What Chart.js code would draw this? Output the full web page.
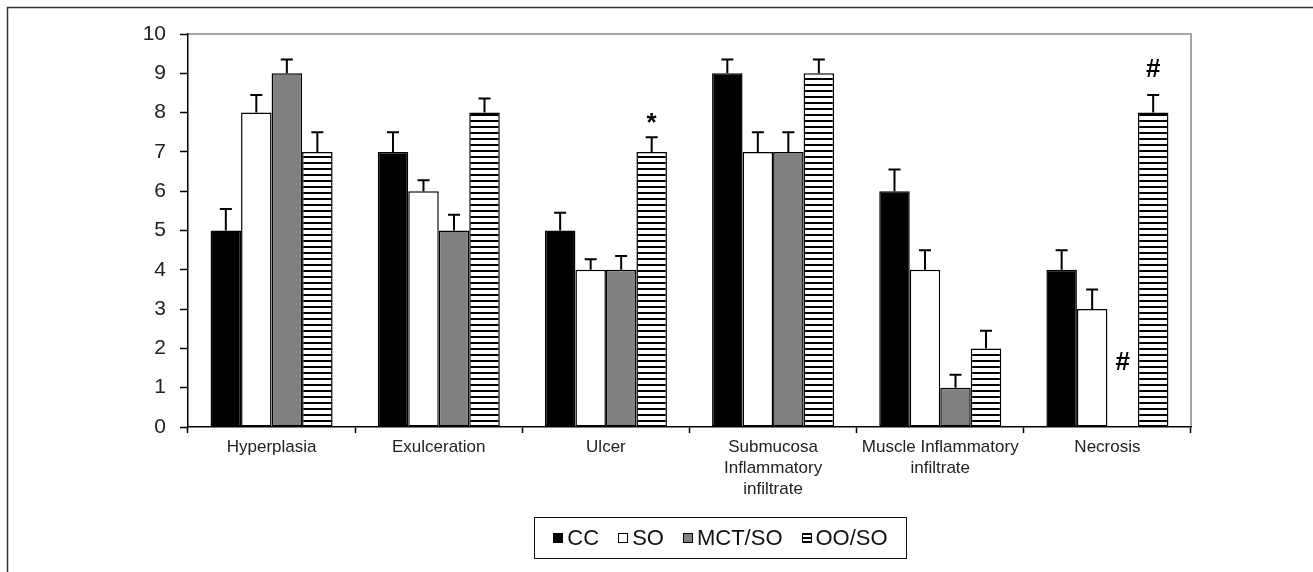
<!DOCTYPE html>
<html lang="en">
<head>
    <meta charset="UTF-8">
    <title>Histological scores</title>
    <script src="https://cdn.jsdelivr.net/npm/chart.js"></script>
    <style>
        body { margin: 0; background: #fff; }
        #wrap { position: relative; width: 1313px; height: 572px; }
        #legenda {
            position: absolute; left: 534px; top: 517px; width: 373px; height: 42px;
            box-sizing: border-box; border: 1.5px solid #111;
            display: flex; align-items: center; justify-content: center; gap: 19px;
            font-family: "Liberation Sans", Arial, sans-serif; font-size: 22px; color: #111;
        }
        .item { display: flex; align-items: center; }
        .swatch { width: 10px; height: 10px; box-sizing: border-box; border: 1px solid #000; margin-right: 4px; }
    </style>
</head>
<body>
<div id="wrap">
    <canvas id="grafico" width="1313" height="572"></canvas>
    <div id="legenda"></div>
</div>
<script>
    const categorias = [
        'Hyperplasia',
        'Exulceration',
        'Ulcer',
        ['Submucosa', 'Inflammatory', 'infiltrate'],
        ['Muscle Inflammatory', 'infiltrate'],
        'Necrosis'
    ];
    const grupos = ['CC', 'SO', 'MCT/SO', 'OO/SO'];

    const valoresCC  = [5, 7, 5, 9, 6, 4];
    const valoresSO  = [8, 6, 4, 7, 4, 3];
    const valoresMCT = [9, 5, 4, 7, 1, 0];
    const valoresOO  = [7, 8, 7, 9, 2, 8];

    const erroCC  = [0.55, 0.5, 0.45, 0.35, 0.55, 0.5];
    const erroSO  = [0.45, 0.28, 0.27, 0.5, 0.5, 0.5];
    const erroMCT = [0.35, 0.4, 0.35, 0.5, 0.33, null];
    const erroOO  = [0.5, 0.36, 0.37, 0.35, 0.45, 0.45];

    const ticksY = [0, 1, 2, 3, 4, 5, 6, 7, 8, 9, 10];

    // marcas de significancia: categoria, grupo, texto
    const marcas = [
        { cat: 2, grupo: 3, texto: '*', gap: 19 },
        { cat: 5, grupo: 3, texto: '#', gap: 25 },
        { cat: 5, grupo: 2, texto: '#', gap: 64 }
    ];

    const fonte = '"Liberation Sans", Arial, sans-serif';

    function criarHachura() {
        const c = document.createElement('canvas');
        c.width = 8; c.height = 6;
        const g = c.getContext('2d');
        g.fillStyle = '#fff';
        g.fillRect(0, 0, 8, 6);
        g.fillStyle = '#000';
        g.fillRect(0, 0, 8, 2);
        return c;
    }
    const hachura = document.getElementById('grafico').getContext('2d').createPattern(criarHachura(), 'repeat');

    const cores = ['#000000', '#ffffff', '#808080', hachura];
    const valores = [valoresCC, valoresSO, valoresMCT, valoresOO];
    const erros = [erroCC, erroSO, erroMCT, erroOO];

    const pluginExtras = {
        id: 'extras',
        beforeDraw(chart) {
            const ctx = chart.ctx;
            ctx.save();
            ctx.strokeStyle = '#333';
            ctx.lineWidth = 1.5;
            ctx.beginPath();
            ctx.moveTo(7.5, 572);
            ctx.lineTo(7.5, 7.5);
            ctx.lineTo(1313, 7.5);
            ctx.stroke();
            const a = chart.chartArea;
            ctx.strokeStyle = '#888';
            ctx.beginPath();
            ctx.moveTo(a.left, a.top);
            ctx.lineTo(a.right, a.top);
            ctx.lineTo(a.right, a.bottom);
            ctx.stroke();
            ctx.restore();
        },
        afterDatasetsDraw(chart) {
            const ctx = chart.ctx;
            const y = chart.scales.y;
            ctx.save();
            ctx.strokeStyle = '#000';
            ctx.lineWidth = 2;
            chart.data.datasets.forEach((ds, i) => {
                const meta = chart.getDatasetMeta(i);
                meta.data.forEach((bar, j) => {
                    const e = erros[i][j];
                    if (e == null) return;
                    const topo = y.getPixelForValue(ds.data[j] + e);
                    ctx.beginPath();
                    ctx.moveTo(bar.x, bar.y);
                    ctx.lineTo(bar.x, topo);
                    ctx.moveTo(bar.x - 6, topo);
                    ctx.lineTo(bar.x + 6, topo);
                    ctx.stroke();
                });
            });
            ctx.fillStyle = '#000';
            ctx.font = 'bold 26px ' + fonte;
            ctx.textAlign = 'center';
            ctx.textBaseline = 'middle';
            marcas.forEach(m => {
                const bar = chart.getDatasetMeta(m.grupo).data[m.cat];
                const v = valores[m.grupo][m.cat] + (erros[m.grupo][m.cat] || 0);
                const base = y.getPixelForValue(v);
                ctx.fillText(m.texto, bar.x, base - m.gap + (m.texto === '*' ? 5 : 0));
            });
            ctx.restore();
        }
    };

    new Chart(document.getElementById('grafico'), {
        type: 'bar',
        data: {
            labels: categorias,
            datasets: grupos.map((nome, i) => ({
                label: nome,
                data: valores[i],
                backgroundColor: cores[i],
                borderColor: '#000',
                borderWidth: 1.5,
                borderSkipped: false,
                categoryPercentage: 0.73,
                barPercentage: 1.0
            }))
        },
        options: {
            responsive: false,
            animation: false,
            devicePixelRatio: 1,
            layout: { padding: { left: 128, right: 122, top: 34, bottom: 65 } },
            plugins: {
                legend: { display: false },
                tooltip: { enabled: false }
            },
            scales: {
                x: {
                    afterFit(s) { s.height = 80; },
                    grid: { drawOnChartArea: false, tickLength: 6, tickColor: '#000', tickWidth: 1.5 },
                    border: { color: '#000', width: 1.5 },
                    ticks: {
                        color: '#222',
                        padding: 4,
                        maxRotation: 0,
                        autoSkip: false,
                        font: { family: fonte, size: 17, lineHeight: 1.22 }
                    }
                },
                y: {
                    min: 0,
                    max: 10,
                    afterFit(s) { s.width = 60; },
                    afterBuildTicks(s) { s.ticks = ticksY.map(v => ({ value: v })); },
                    grid: { drawOnChartArea: false, tickLength: 8, tickColor: '#000', tickWidth: 1.5 },
                    border: { color: '#000', width: 1.5 },
                    ticks: {
                        color: '#222',
                        padding: 14,
                        font: { family: fonte, size: 21 }
                    }
                }
            }
        },
        plugins: [pluginExtras]
    });

    const legenda = document.getElementById('legenda');
    const estilos = [
        'background:#000',
        'background:#fff',
        'background:#808080',
        'background:repeating-linear-gradient(to bottom,#000 0,#000 1.5px,#fff 1.5px,#fff 3.5px)'
    ];
    grupos.forEach((nome, i) => {
        legenda.innerHTML += `<div class="item"><span class="swatch" style="${estilos[i]}"></span>${nome}</div>`;
    });
</script>
</body>
</html>
